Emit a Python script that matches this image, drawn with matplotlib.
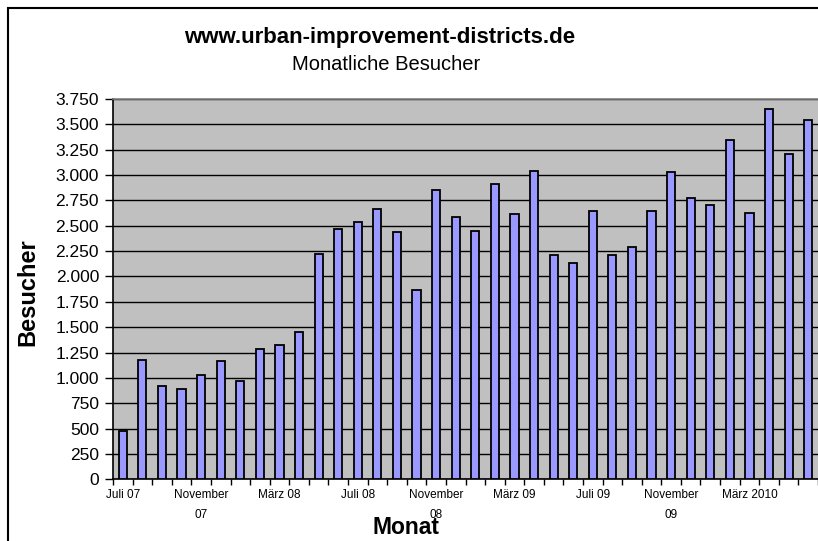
import matplotlib
matplotlib.use("Agg")
import matplotlib.pyplot as plt
from matplotlib.patches import Rectangle
from matplotlib.ticker import FuncFormatter
import numpy as np

plt.rcParams['font.family'] = ['Liberation Sans', 'DejaVu Sans']

# monthly visitors, Juli 07 .. Juni 2010
monate = ["Juli 07", "", "", "", "November\n07", "", "", "", "März 08", "", "", "",
          "Juli 08", "", "", "", "November\n08", "", "", "", "März 09", "", "", "",
          "Juli 09", "", "", "", "November\n09", "", "", "", "März 2010", "", "", ""]
besucher = [473, 1179, 920, 890, 1031, 1163, 972, 1288, 1321, 1449,
            2218, 2471, 2534, 2662, 2438, 1863, 2853, 2583, 2451, 2915,
            2613, 3043, 2215, 2136, 2645, 2215, 2293, 2645, 3027, 2774,
            2708, 3346, 2629, 3648, 3204, 3540]

W, H = 818, 541
fig = plt.figure(figsize=(W / 100, H / 100), dpi=100)
fig.patch.set_facecolor("white")

left, top, bottom = 113, 99, 479.3
ax = fig.add_axes([left / W, 1 - bottom / H, 1 - left / W, (bottom - top) / H])
ax.set_facecolor("#C0C0C0")

x = np.arange(len(besucher))
ax.bar(x, besucher, width=0.42, color="#9999FF", edgecolor="black", linewidth=1.3, zorder=3)

ax.set_xlim(-0.5, len(besucher) - 0.5)
ax.set_ylim(0, 3750)
ax.set_yticks(np.arange(0, 3751, 250))
ax.yaxis.set_major_formatter(FuncFormatter(lambda v, p: f"{int(v):,}".replace(",", ".")))
ax.yaxis.grid(True, color="black", linewidth=1.0, zorder=1)
ax.set_axisbelow(True)

# ticks between bars, labels under every 4th bar
ax.set_xticks(np.arange(-0.5, len(besucher), 1))
ax.set_xticklabels([])
ax.tick_params(axis="x", which="major", length=4, width=1, direction="out")
lab_pos = [i for i, m in enumerate(monate) if m]
ax.set_xticks(lab_pos, minor=True)
ax.set_xticklabels([monate[i] for i in lab_pos], minor=True, fontsize=8.5, linespacing=1.9)
ax.tick_params(axis="x", which="minor", length=0, pad=7)
ax.tick_params(axis="y", length=6, width=1, labelsize=12.5, pad=4)

ax.spines["right"].set_visible(False)
ax.spines["top"].set_color("#808080")
ax.spines["top"].set_linewidth(1.2)
ax.spines["left"].set_linewidth(1.2)
ax.spines["bottom"].set_linewidth(1.2)

fig.text(380 / W, 1 - 37 / H, "www.urban-improvement-districts.de", ha="center", va="center",
         fontsize=16, fontweight="bold")
fig.text(386 / W, 1 - 65 / H, "Monatliche Besucher", ha="center", va="center", fontsize=14.5)
fig.text(28 / W, 1 - 292 / H, "Besucher", ha="center", va="center", rotation=90,
         fontsize=17, fontweight="bold")
fig.text(406 / W, 1 - 528 / H, "Monat", ha="center", va="center", fontsize=16.5, fontweight="bold")

# outer frame of chart object (right/bottom cut off)
fig.add_artist(Rectangle((8 / W, -0.5), 2, 1.5 - 8 / H, transform=fig.transFigure,
                         fill=False, edgecolor="black", linewidth=1.5))

plt.savefig("out.png", dpi=100)
